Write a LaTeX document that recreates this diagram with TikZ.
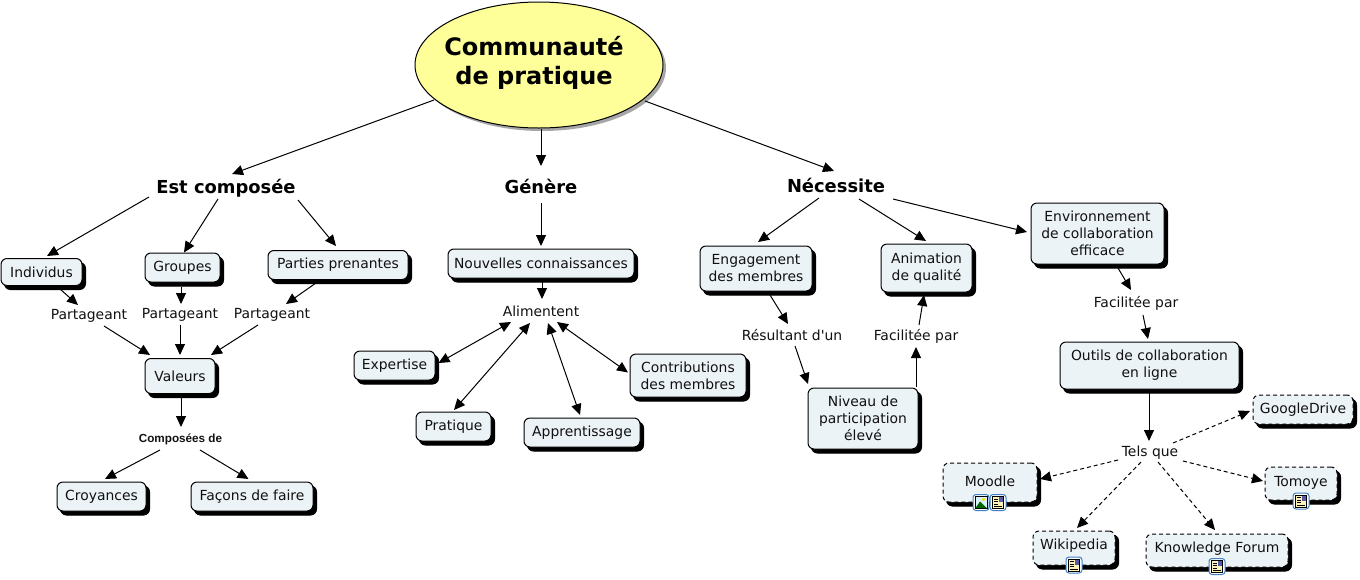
\documentclass[tikz,border=0pt]{standalone}
\usepackage{fontspec}
\setmainfont{DejaVu Sans}
\newfontfamily\arialfont{Liberation Sans}
\newfontfamily\rawfont{DejaVu Sans}
\usetikzlibrary{arrows.meta,shadows,shapes.geometric}
\definecolor{boxfill}{HTML}{ECF3F6}
\definecolor{ink}{HTML}{111111}
\definecolor{rootfill}{HTML}{FFFF99}
\definecolor{iconblue}{HTML}{3F7FC4}
\definecolor{pagefill}{HTML}{FBF3B8}
\tikzset{
  x=1pt,y=-1pt,
  conn/.style={draw=black,line width=1pt,-{Triangle[length=11pt,width=10pt]}},
  dconn/.style={conn,dash pattern=on 4pt off 3pt},
  bconn/.style={draw=black,line width=1pt,{Triangle[length=11pt,width=10pt]}-{Triangle[length=11pt,width=10pt]}},
  box/.style={rectangle,rounded corners=6pt,draw=black,line width=1pt,fill=boxfill,align=center,
    inner sep=0pt,text=ink,font=\fontsize{13.9}{17}\selectfont,
    general shadow={fill=black,draw=black,solid,shadow xshift=3.5pt,shadow yshift=-4pt}},
  dbox/.style={box,dash pattern=on 4pt off 3pt},
  lab/.style={inner sep=0pt,text=ink,align=center,text height=14.5pt,text depth=3pt,font=\fontsize{13.9}{17}\selectfont},
  head/.style={inner sep=0pt,text=black,text height=18pt,text depth=4pt,font=\bfseries\fontsize{17.9}{20}\selectfont},
  sz/.style 2 args={minimum width=#1 pt,minimum height=#2 pt},
  iconframe/.style={draw=iconblue,line width=1pt,fill=white,rounded corners=3pt,minimum size=16pt,inner sep=0pt},
}
\begin{document}
\begin{tikzpicture}
\useasboundingbox (0,0) rectangle (1360,579);
\fill[white] (0,0) rectangle (1360,579);
% root
\node[ellipse,draw=black,line width=1pt,fill=rootfill,minimum width=248pt,minimum height=126pt,inner sep=0pt,
  general shadow={fill=gray!70,draw=none,shadow xshift=3pt,shadow yshift=-3pt}] (top) at (539,65) {};
\node[inner sep=0pt,align=center,font=\bfseries\fontsize{24}{29}\selectfont] (title) at (534,62.5) {Communauté\\de pratique};
% headings
\node[head] (est) at (226,186) {Est composée};
\node[head] (gen) at (541,186) {Génère};
\node[head] (nec) at (836,185) {Nécessite};
% left branch
\node[box,sz={81}{27}] (ind) at (41.5,272) {Individus};
\node[box,sz={75}{29}] (gro) at (182.5,267.5) {Groupes};
\node[box,sz={140}{29}] (par) at (338,265) {Parties prenantes};
\node[lab] (p1) at (89,314) {Partageant};
\node[lab] (p2) at (180,313) {Partageant};
\node[lab] (p3) at (272,313) {Partageant};
\node[box,sz={70}{35}] (val) at (180,376) {Valeurs};
\node[inner sep=0pt,text=ink,text height=11pt,text depth=2.5pt,font=\arialfont\bfseries\fontsize{11.7}{13}\selectfont] (cmp) at (180.5,438) {Composées de};
\node[box,sz={89}{29}] (cro) at (101.5,496.5) {Croyances};
\node[box,sz={122}{29}] (fac) at (252,496.5) {Façons de faire};
% middle branch
\node[box,sz={186}{29}] (nou) at (541,263.5) {Nouvelles connaissances};
\node[lab] (ali) at (541,311) {Alimentent};
\node[box,sz={81}{29}] (exp) at (394.5,365.5) {Expertise};
\node[box,sz={75}{29}] (pra) at (453.5,426.5) {Pratique};
\node[box,sz={116}{29}] (app) at (582,432.5) {Apprentissage};
\node[box,sz={116}{43}] (con) at (688,375.5) {Contributions\\des membres};
% right branch
\node[box,sz={112}{45}] (eng) at (756,268.5) {Engagement\\des membres};
\node[box,sz={91}{48}] (ani) at (926.5,268) {Animation\\de qualité};
\node[box,sz={133}{61}] (env) at (1097.5,233.5) {Environnement\\de collaboration\\efficace};
\node[lab] (res) at (792,335) {Résultant {\rawfont d'}un};
\node[lab] (fa1) at (916,335) {Facilitée par};
\node[box,sz={110}{61}] (niv) at (863,418.5) {Niveau de\\participation\\élevé};
\node[lab] (fa2) at (1136,302) {Facilitée par};
\node[box,sz={179}{47}] (out) at (1149.5,365.5) {Outils de collaboration\\en ligne};
\node[lab] (tel) at (1150,451) {Tels que};
\node[dbox,sz={100}{29}] (goo) at (1303,409.5) {GoogleDrive};
\node[dbox,sz={94}{39}] (moo) at (990,482.5) {};
\node[lab] (moot) at (990,481) {Moodle};
\node[dbox,sz={72}{33}] (tom) at (1301,483.5) {};
\node[lab] (tomt) at (1301,481) {Tomoye};
\node[dbox,sz={82}{34}] (wik) at (1074,548) {};
\node[lab] (wikt) at (1074,544) {Wikipedia};
\node[dbox,sz={142}{33}] (kno) at (1217,550.5) {};
\node[lab] (knot) at (1217,546.5) {Knowledge Forum};
% connectors
\draw[conn] ([shift={(-105,35)}]top.center) -- ([shift={(6,-12)}]est.center);
\draw[conn] ([shift={(2,64)}]top.center) -- ([shift={(0,-20)}]gen.center);
\draw[conn] ([shift={(106,36)}]top.center) -- ([shift={(-2,-14)}]nec.center);
\draw[conn] ([shift={(-77,11)}]est.center) -- ([shift={(5.5,-16)}]ind.center);
\draw[conn] ([shift={(-8,13)}]est.center) -- ([shift={(1.5,-15)}]gro.center);
\draw[conn] ([shift={(72,14)}]est.center) -- ([shift={(-2,-19)}]par.center);
\draw[conn] ([shift={(18.5,17)}]ind.center) -- ([shift={(-11,-9)}]p1.center);
\draw[conn] ([shift={(-1.5,19.5)}]gro.center) -- ([shift={(1,-9)}]p2.center);
\draw[conn] ([shift={(-22,18)}]par.center) -- ([shift={(14,-9)}]p3.center);
\draw[conn] ([shift={(15,12)}]p1.center) -- ([shift={(-30,-21)}]val.center);
\draw[conn] ([shift={(0,12)}]p2.center) -- ([shift={(0,-21)}]val.center);
\draw[conn] ([shift={(-14,12)}]p3.center) -- ([shift={(31,-21)}]val.center);
\draw[conn] ([shift={(1,17.5)}]val.center) -- ([shift={(0.5,-11)}]cmp.center);
\draw[conn] ([shift={(-20.5,12)}]cmp.center) -- ([shift={(3.5,-17.5)}]cro.center);
\draw[conn] ([shift={(19.5,12)}]cmp.center) -- ([shift={(-3.5,-17.5)}]fac.center);
\draw[conn] ([shift={(0,17)}]gen.center) -- ([shift={(0,-17.5)}]nou.center);
\draw[conn] ([shift={(1,15.5)}]nou.center) -- ([shift={(1,-12)}]ali.center);
\draw[bconn] ([shift={(-30,11)}]ali.center) -- ([shift={(44,-2.5)}]exp.center);
\draw[bconn] ([shift={(-11,12)}]ali.center) -- ([shift={(0.5,-16.5)}]pra.center);
\draw[bconn] ([shift={(7,12)}]ali.center) -- ([shift={(-2,-17.5)}]app.center);
\draw[bconn] ([shift={(16,11)}]ali.center) -- ([shift={(-60,-3)}]con.center);
\draw[conn] ([shift={(-17,13)}]nec.center) -- ([shift={(2,-26.5)}]eng.center);
\draw[conn] ([shift={(23,14)}]nec.center) -- ([shift={(-0.5,-27)}]ani.center);
\draw[conn] ([shift={(57,14)}]nec.center) -- ([shift={(-70.5,-1.5)}]env.center);
\draw[conn] ([shift={(14,26.5)}]eng.center) -- ([shift={(-4,-11)}]res.center);
\draw[conn] ([shift={(3,11)}]res.center) -- ([shift={(-55,-34.5)}]niv.center);
\draw[conn] ([shift={(53,-31.5)}]niv.center) -- ([shift={(0,12)}]fa1.center);
\draw[conn] ([shift={(3,-10)}]fa1.center) -- ([shift={(-2.5,27)}]ani.center);
\draw[conn] ([shift={(20.5,34.5)}]env.center) -- ([shift={(-5,-12)}]fa2.center);
\draw[conn] ([shift={(7,13)}]fa2.center) -- ([shift={(-1.5,-26.5)}]out.center);
\draw[conn] ([shift={(-0.5,26.5)}]out.center) -- ([shift={(-1,-10)}]tel.center);
\draw[dconn] ([shift={(23,-8)}]tel.center) -- ([shift={(-53,1.5)}]goo.center);
\draw[dconn] ([shift={(-32,9)}]tel.center) -- ([shift={(50,-3.5)}]moo.center);
\draw[dconn] ([shift={(33,10)}]tel.center) -- ([shift={(-38,-2.5)}]tom.center);
\draw[dconn] ([shift={(-9,11)}]tel.center) -- ([shift={(3,-20)}]wik.center);
\draw[dconn] ([shift={(8,11)}]tel.center) -- ([shift={(-2,-20.5)}]kno.center);
% icons
\newcommand{\pageicon}[2]{%
  \node[iconframe] (#1) at (#2) {};
  \fill[pagefill,draw=black,line width=.7pt] ([shift={(-5.5,-6)}]#1.center) rectangle ([shift={(5.5,6)}]#1.center);
  \fill[gray!70!blue] ([shift={(0.5,-5.5)}]#1.center) rectangle ([shift={(5,-0.5)}]#1.center);
  \foreach \dy in {-3.5,-1,1.5}{\draw[black,line width=.8pt] ([shift={(-4,\dy)}]#1.center) -- ([shift={(-.5,\dy)}]#1.center);}
  \draw[black,line width=.8pt] ([shift={(-4,4)}]#1.center) -- ([shift={(4,4)}]#1.center);
}
\node[iconframe] (i0) at (981,502.5) {};
\fill[cyan!15!white,draw=black,line width=.7pt] ([shift={(-6,-6)}]i0.center) rectangle ([shift={(6,6)}]i0.center);
\fill[green!40!black] ([shift={(-5.6,5.6)}]i0.center) -- ([shift={(-1,-1)}]i0.center) -- ([shift={(5.6,5.6)}]i0.center) -- cycle;
\fill[yellow!80!orange] ([shift={(2.5,-3)}]i0.center) circle (1.8pt);
\pageicon{i1}{998,502.5}
\pageicon{i2}{1301,501}
\pageicon{i3}{1074,565}
\pageicon{i4}{1217,566.5}
\end{tikzpicture}
\end{document}
